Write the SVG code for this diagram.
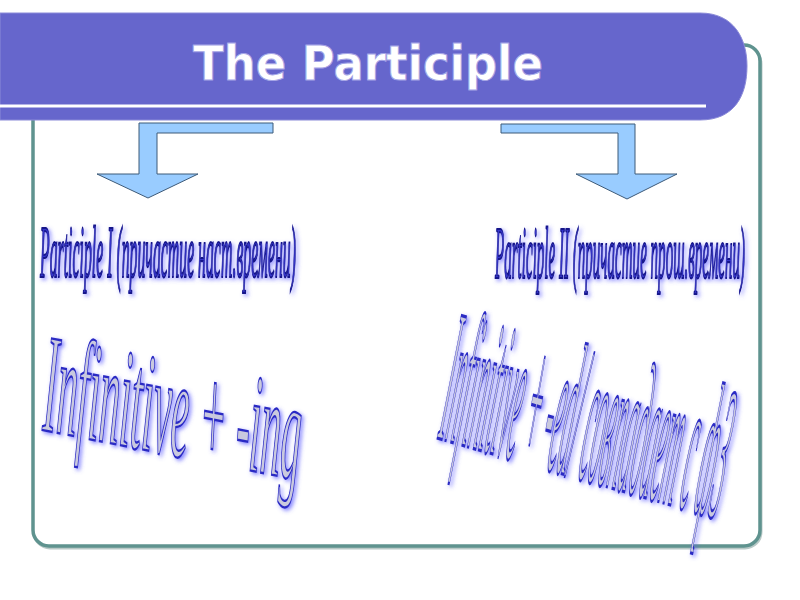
<svg xmlns="http://www.w3.org/2000/svg" width="800" height="600" viewBox="0 0 800 600">
<defs>
<style>
.lbl{font-family:"Liberation Serif","DejaVu Serif",serif;font-style:italic;font-size:74px;fill:#3636cc;stroke:#14148a;stroke-width:2.2}
.big{font-family:"Liberation Serif","DejaVu Serif",serif;font-style:italic;fill:#c9c9de;stroke:#2b2bc4}
.arrow{fill:#99ccff;stroke:#3d5a78;stroke-width:1}
.title{font-family:"DejaVu Sans","Liberation Sans",sans-serif;font-weight:bold;font-size:48px;fill:#ffffff;stroke:#a5a5e6;stroke-width:1}
</style>
<filter id="glow" x="-10%" y="-20%" width="120%" height="140%">
<feGaussianBlur in="SourceAlpha" stdDeviation="2.2" result="b"/>
<feFlood flood-color="#5a5aff" flood-opacity="0.75"/>
<feComposite in2="b" operator="in"/>
<feOffset dx="1.5" dy="2"/>
<feMerge><feMergeNode/><feMergeNode in="SourceGraphic"/></feMerge>
</filter>
</defs>
<rect width="800" height="600" fill="#ffffff"/>
<g id="frame">
<rect x="34" y="48" width="727" height="500" rx="16" fill="none" stroke="#b9c9c7" stroke-width="3"/>
<rect x="33" y="45" width="727" height="501" rx="16" fill="#ffffff" stroke="#5f938f" stroke-width="3.5"/>
</g>
<g id="title">
<path d="M0,13 H700 C735,13 747,40 747,66 C747,95 735,120 700,120 H0 Z" fill="#6666cc" stroke="#8a8ad8" stroke-width="1"/>
<rect x="0" y="104.5" width="706" height="3" fill="#ffffff"/>
<text class="title" x="193" y="80" textLength="350" lengthAdjust="spacingAndGlyphs">The Participle</text>
</g>
<g id="connectors">
<polygon class="arrow" points="139,123 273,123 273,133 157,133 157,174 198,174 148,198 97,174 139,174"/>
<polygon class="arrow" points="501,124 635,124 635,174 677,174 627,199 576,174 618,174 618,133 501,133"/>
</g>
<g id="participle1" filter="url(#glow)">
<text class="lbl" transform="translate(40,277) scale(0.2133,1)" x="0" y="0" textLength="1200" lengthAdjust="spacingAndGlyphs">Participle I (причастие  наст.времени)</text>
</g>
<g id="participle2" filter="url(#glow)">
<text class="lbl" transform="translate(495,278) scale(0.2083,1)" x="0" y="0" textLength="1200" lengthAdjust="spacingAndGlyphs">Participle II (причастие  прош.времени)</text>
</g>
<g id="formula1" filter="url(#glow)">
<text class="big" font-size="140" stroke-width="2.4" transform="translate(42,430) rotate(11) skewX(8) scale(0.2911,1)" x="0" y="0" textLength="900" lengthAdjust="spacingAndGlyphs">Infinitive + -ing</text>
</g>
<g id="formula2" filter="url(#glow)">
<text class="big" font-size="190" stroke-width="3.2" transform="translate(437,438) rotate(16) skewX(6) scale(0.1217,1)" x="0" y="0" textLength="2400" lengthAdjust="spacingAndGlyphs">Infinitive + -ed/ совпадает с ф3</text>
</g>
</svg>
